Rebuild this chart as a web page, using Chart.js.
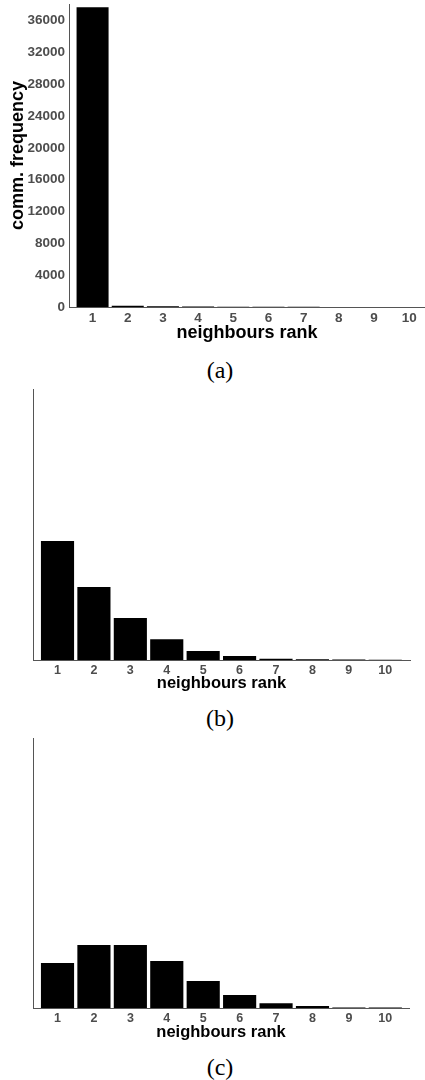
<!DOCTYPE html>
<html>
<head>
<meta charset="utf-8">
<script src="https://cdn.jsdelivr.net/npm/chart.js@4.4.0/dist/chart.umd.min.js"></script>
<style>
  html, body { margin: 0; padding: 0; background: #fff; }
  body { position: relative; width: 425px; height: 1080px; overflow: hidden; }
  .panel { position: absolute; left: 0; width: 425px; }
  .cap {
    position: absolute; left: 0; width: 440px; text-align: center;
    font-family: "Liberation Serif", "Times New Roman", serif;
    font-size: 24px; line-height: 24px; color: #000;
  }
</style>
</head>
<body>
<div class="panel" style="top:0;height:345px"><canvas id="chartA"></canvas></div>
<div class="cap" style="top:358px">(a)</div>
<div class="panel" style="top:380px;height:315px"><canvas id="chartB"></canvas></div>
<div class="cap" style="top:706px">(b)</div>
<div class="panel" style="top:728px;height:315px"><canvas id="chartC"></canvas></div>
<div class="cap" style="top:1055px">(c)</div>

<script>
// neighbour ranks on the x axis
const ranks = [1, 2, 3, 4, 5, 6, 7, 8, 9, 10];

// (a) communication frequency per neighbour rank
const freqA = [37700, 160, 90, 60, 40, 30, 20, 15, 10, 8];
const yTicksA = [0, 4000, 8000, 12000, 16000, 20000, 24000, 28000, 32000, 36000];

// (b) and (c) share an unlabelled frequency axis (relative units)
const freqB = [439, 269, 155, 77, 33, 15, 5, 3, 1.5, 1];
const freqC = [167, 233, 233, 174, 100, 48, 18, 7, 2, 1.5];

const SANS = '"Liberation Sans", Arial, Helvetica, sans-serif';
const TICK_GREY = '#4d4d4d';
const AXIS_LINE = '#555555';

function makePanel(id, values, cfg) {
  const xScale = {
    type: 'linear',
    min: cfg.xMin,
    max: cfg.xMax,
    offset: false,
    afterBuildTicks: s => { s.ticks = ranks.map(v => ({ value: v })); },
    afterFit: s => {
      s.height = cfg.xAxisHeight;
      s.paddingLeft = 0; s.paddingRight = 0;
    },
    grid: { display: false, drawTicks: false },
    border: { display: true, color: AXIS_LINE, width: 1 },
    ticks: {
      autoSkip: false, maxRotation: 0, padding: cfg.xTickPad,
      color: TICK_GREY,
      font: { family: SANS, size: cfg.tickSize, weight: 'bold' },
      callback: v => String(v)
    },
    title: {
      display: true, text: 'neighbours rank', color: '#000',
      font: { family: SANS, size: cfg.titleSize, weight: 'bold' },
      padding: { top: 0, bottom: cfg.xTitlePadBottom }
    }
  };

  const yScale = {
    type: 'linear',
    min: 0,
    max: cfg.yMax,
    afterFit: s => {
      s.width = cfg.yAxisWidth;
      s.paddingTop = 0; s.paddingBottom = 0;
    },
    grid: { display: false, drawTicks: false },
    border: { display: true, color: AXIS_LINE, width: 1 },
    ticks: { display: false }
  };

  if (cfg.yTicks) {
    yScale.afterBuildTicks = s => { s.ticks = cfg.yTicks.map(v => ({ value: v })); };
    yScale.ticks = {
      display: true, padding: 4, color: TICK_GREY,
      font: { family: SANS, size: cfg.tickSize, weight: 'bold' },
      callback: v => String(v)
    };
    yScale.title = {
      display: true, text: 'comm. frequency', color: '#000',
      font: { family: SANS, size: cfg.titleSize, weight: 'bold' },
      padding: { top: 7, bottom: 0 }
    };
  }

  return new Chart(document.getElementById(id), {
    type: 'bar',
    data: {
      datasets: [{
        data: ranks.map((r, i) => ({ x: r, y: values[i] })),
        backgroundColor: '#000',
        borderWidth: 0,
        barPercentage: 0.91,
        categoryPercentage: 1.0
      }]
    },
    options: {
      responsive: true,
      maintainAspectRatio: false,
      animation: false,
      events: [],
      layout: { padding: { top: cfg.padTop, right: cfg.padRight, left: 0, bottom: 0 } },
      plugins: { legend: { display: false }, tooltip: { enabled: false } },
      scales: { x: xScale, y: yScale }
    }
  });
}

makePanel('chartA', freqA, {
  xMin: 0.33, xMax: 10.45, yMax: 38100, yTicks: yTicksA,
  yAxisWidth: 69, xAxisHeight: 38, padTop: 4, padRight: 0,
  tickSize: 13.5, titleSize: 18, xTickPad: 3, xTitlePadBottom: 1
});

makePanel('chartB', freqB, {
  xMin: 0.327, xMax: 10.68, yMax: 1000,
  yAxisWidth: 33, xAxisHeight: 35, padTop: 9, padRight: 15,
  tickSize: 12.5, titleSize: 16.5, xTickPad: 3, xTitlePadBottom: 2
});

makePanel('chartC', freqC, {
  xMin: 0.327, xMax: 10.65, yMax: 1000,
  yAxisWidth: 33, xAxisHeight: 35, padTop: 10, padRight: 16,
  tickSize: 12.5, titleSize: 16.5, xTickPad: 3, xTitlePadBottom: 1
});
</script>
</body>
</html>
